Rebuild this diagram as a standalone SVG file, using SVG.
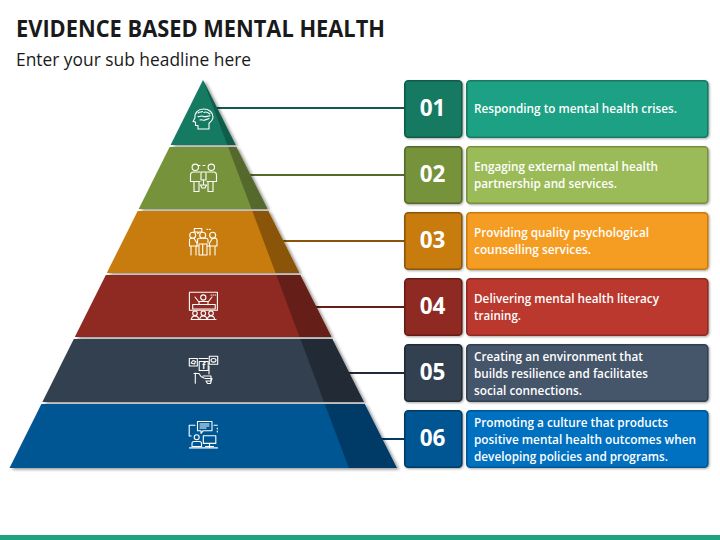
<svg xmlns="http://www.w3.org/2000/svg" width="720" height="540" viewBox="0 0 720 540">
<style>
.t{font-family:"Open Sans","Liberation Sans",sans-serif;fill:#1a1a1a}
.n{font-family:"Open Sans","Liberation Sans",sans-serif;font-weight:700;font-size:22.500px;fill:#fff;text-anchor:middle}
.b{font-family:"Open Sans","Liberation Sans",sans-serif;font-weight:600;font-size:11.600px;fill:#fff}
.i{fill:none;stroke:#fff;stroke-width:1.100;stroke-linejoin:round;stroke-linecap:round}
.c{fill:none;stroke-width:2}
.bx{stroke-width:1.600;filter:url(#bs)}
</style>
<defs>
<filter id="ps" x="-10%" y="-10%" width="125%" height="125%"><feDropShadow dx="2.500" dy="1.500" stdDeviation="1.600" flood-color="#000" flood-opacity=".42"/></filter>
<filter id="bs" x="-10%" y="-10%" width="120%" height="120%"><feDropShadow dx="1" dy="1" stdDeviation="1" flood-color="#000" flood-opacity=".35"/></filter>
</defs>
<rect width="720" height="540" fill="#fff"/>
<text class="t" x="16" y="37" font-size="23.500" font-weight="700" textLength="369" lengthAdjust="spacingAndGlyphs">EVIDENCE BASED MENTAL HEALTH</text>
<text class="t" x="16" y="66" font-size="17.500" textLength="235" lengthAdjust="spacingAndGlyphs">Enter your sub headline here</text>

<g id="connectors">
<path class="c" stroke="#0f5c4a" d="M215 108H404"/>
<path class="c" stroke="#55692c" d="M248 175H404"/>
<path class="c" stroke="#8a5508" d="M281 241H404"/>
<path class="c" stroke="#661e18" d="M314 307H404"/>
<path class="c" stroke="#222a36" d="M347 373H404"/>
<path class="c" stroke="#003a66" d="M380 439H404"/>
</g>

<g id="tier-1">
<path fill="#167a62" filter="url(#ps)" d="M203 80L170.600 145H235.600Z"/>
<path fill="#0f5c4a" d="M203 80L227.400 145H235.600Z"/>
<g class="i"><path d="M198 129v-3.500h-2.500v-3.500l-2.500-.6 2-3.600c-.7-5 3-8.800 8.500-8.800s9.500 3.400 9.500 7.800c0 3-2 5-4 6.500v5.700z"/><path d="M198 113c2-1.600 3-.4 4.500-1.500M204 112.500c2-1.300 3.500-.3 6 1.500M198 116.500c2 .8 3-1.300 5-.3s3 .8 7-.4M200 120c2-1 3 .8 5 0s2-.5 4-1.500"/></g>
</g>

<g id="tier-2">
<path fill="#76923b" filter="url(#ps)" d="M169.600 147H236.400L267.500 209H138.700Z"/>
<path fill="#55692c" d="M228.200 147H236.400L267.500 209H251.500Z"/>
<g class="i"><circle cx="195.300" cy="167.300" r="3.200"/><circle cx="211.300" cy="167.300" r="3.200"/><path d="M200 172h-6.500q-3 0-3 3v6.500h3.500v10h5v-10M207 172h6.500q3 0 3 3v6.500h-3.500v10h-5v-10M194 181.500h6M207 181.500h6M203.500 180v4M200.500 185h6l-1.500 3h-3zM198 165.500h2M203 165.500h2"/><rect x="201" y="172" width="5" height="8"/></g>
</g>

<g id="tier-3">
<path fill="#c77c0e" filter="url(#ps)" d="M137.700 211H268.300L299.400 273H106.800Z"/>
<path fill="#8a5508" d="M252.300 211H268.300L299.400 273H275.600Z"/>
<g class="i"><circle cx="192.700" cy="235.300" r="3"/><circle cx="202.700" cy="235.300" r="3"/><circle cx="212.700" cy="235.300" r="3"/><path d="M194.300 228.500h7.500v3.500h-2.500l-1.500 1.500v-1.500h-3.500zM207 229.400h.7M209.500 229.400h.7M189.500 246v-6q0-1.800 2-1.800h2.500l3 5v3M217 246v-6q0-1.800-2-1.800h-2.500l-3 5v3M197.500 243v-3q0-1.800 2-1.800h6.500q2 0 2 1.800v3M190 246h8M208 246h9M191 246v9M196 246v9M210 246v9M215 246v9M199 244h8v11h-8zM202.700 244v11"/></g>
</g>

<g id="tier-4">
<path fill="#8e2b23" filter="url(#ps)" d="M105.800 275H300.200L331.400 337H74.800Z"/>
<path fill="#661e18" d="M276.300 275H300.200L331.400 337H299.600Z"/>
<g class="i"><rect x="189.400" y="292.300" width="28" height="18"/><circle cx="203.300" cy="297.500" r="2.600"/><path d="M195 297l3.500 4.500h10l3.500-4.500M199 301.500v3M208 301.500v3M192.700 304.500h22.500v4.500h-22.500zM211 295h.5M213 295h.5M215 295h.5"/><circle cx="195" cy="313.300" r="2.300"/><circle cx="203.300" cy="313.300" r="2.300"/><circle cx="211" cy="313.300" r="2.300"/><path d="M191.500 319.500q0-3.500 3.500-3.500t3.500 3.500M199.800 319.500q0-3.500 3.500-3.500t3.500 3.500M207.500 319.500q0-3.500 3.500-3.500t3.500 3.500M191 319.500h25"/></g>
</g>

<g id="tier-5">
<path fill="#333f50" filter="url(#ps)" d="M73.800 339H332.200L363.800 402H42.400Z"/>
<path fill="#222a36" d="M300.400 339H332.200L363.800 402H324.100Z"/>
<g class="i"><rect x="189.300" y="358.500" width="8" height="7.500"/><rect x="199.200" y="361.500" width="9" height="9"/><rect x="209.300" y="356.300" width="8.400" height="8"/><ellipse cx="213.500" cy="360.300" rx="2.500" ry="1.800"/><path d="M191 363l2-2.500 2.500 1-1 2.500zM199 358.500h9M195.300 373v10.300M194 373.500h5l2 3 3 1.500M209 366v8M203 376h8v2.500h-6M206 378.500h5v2.500h-5M206 381l1.500 2.500h3l1.500-5"/><text x="203.700" y="369" font-family="Open Sans,Liberation Sans,sans-serif" font-size="8" font-weight="700" fill="#fff" stroke="none" text-anchor="middle">f</text></g>
</g>

<g id="tier-6">
<path fill="#005693" filter="url(#ps)" d="M41.400 404H364.600L396.800 468H9.500Z"/>
<path fill="#003a66" d="M324.800 404H364.600L396.800 468H348.900Z"/>
<g class="i"><path d="M197.500 421.500h14.500v9.300h-9l-2 2.500v-2.500h-3.500z"/><path d="M200 424h9M200 426h9M200 428h6M195 425.300h-5.800v10.700h2M214 425.300h3.300M217.300 428v1M217.300 431v1"/><circle cx="196.700" cy="437.300" r="2.500"/><path d="M192 446.500v-3q0-2 2-2h5.500q2 0 2 2v3z"/><rect x="203.300" y="435.700" width="12.500" height="7.700"/><path d="M209.500 443.400v3.500M205.500 446.500h8M189.500 447.900h28"/></g>
</g>

<g id="item-1"><rect class="bx" x="404.800" y="80.800" width="57" height="56.500" rx="3.500" fill="#167a62" stroke="#0f5c4a"/><rect class="bx" x="466.800" y="80.800" width="241" height="56.500" rx="3.500" fill="#1fa184" stroke="#167a62"/><text class="n" x="432.500" y="116">01</text><text class="b" x="474" y="112.500" textLength="203" lengthAdjust="spacingAndGlyphs">Responding to mental health crises.</text></g>
<g id="item-2"><rect class="bx" x="404.800" y="146.800" width="57" height="56.500" rx="3.500" fill="#76923b" stroke="#55692c"/><rect class="bx" x="466.800" y="146.800" width="241" height="56.500" rx="3.500" fill="#9bbb59" stroke="#76923b"/><text class="n" x="432.500" y="182">02</text><text class="b" x="474" y="170.500" textLength="184" lengthAdjust="spacingAndGlyphs">Engaging external mental health</text><text class="b" x="474" y="187.500" textLength="143" lengthAdjust="spacingAndGlyphs">partnership and services.</text></g>
<g id="item-3"><rect class="bx" x="404.800" y="212.800" width="57" height="56.500" rx="3.500" fill="#c77c0e" stroke="#8a5508"/><rect class="bx" x="466.800" y="212.800" width="241" height="56.500" rx="3.500" fill="#f59d23" stroke="#c77c0e"/><text class="n" x="432.500" y="248">03</text><text class="b" x="474" y="236.500" textLength="175" lengthAdjust="spacingAndGlyphs">Providing quality psychological</text><text class="b" x="474" y="253.500" textLength="117" lengthAdjust="spacingAndGlyphs">counselling services.</text></g>
<g id="item-4"><rect class="bx" x="404.800" y="278.800" width="57" height="56.500" rx="3.500" fill="#8e2b23" stroke="#661e18"/><rect class="bx" x="466.800" y="278.800" width="241" height="56.500" rx="3.500" fill="#bb372e" stroke="#8e2b23"/><text class="n" x="432.500" y="314">04</text><text class="b" x="474" y="302.500" textLength="185" lengthAdjust="spacingAndGlyphs">Delivering mental health literacy</text><text class="b" x="474" y="319.500" textLength="47" lengthAdjust="spacingAndGlyphs">training.</text></g>
<g id="item-5"><rect class="bx" x="404.800" y="344.800" width="57" height="56.500" rx="3.500" fill="#333f50" stroke="#222a36"/><rect class="bx" x="466.800" y="344.800" width="241" height="56.500" rx="3.500" fill="#44546a" stroke="#333f50"/><text class="n" x="432.500" y="380">05</text><text class="b" x="474" y="360.500" textLength="169" lengthAdjust="spacingAndGlyphs">Creating an environment that</text><text class="b" x="474" y="377.500" textLength="174" lengthAdjust="spacingAndGlyphs">builds resilience and facilitates</text><text class="b" x="474" y="394.500" textLength="108" lengthAdjust="spacingAndGlyphs">social connections.</text></g>
<g id="item-6"><rect class="bx" x="404.800" y="410.800" width="57" height="56.500" rx="3.500" fill="#005693" stroke="#003a66"/><rect class="bx" x="466.800" y="410.800" width="241" height="56.500" rx="3.500" fill="#0070c0" stroke="#005693"/><text class="n" x="432.500" y="446">06</text><text class="b" x="474" y="426.500" textLength="194" lengthAdjust="spacingAndGlyphs">Promoting a culture that products</text><text class="b" x="474" y="443.500" textLength="222" lengthAdjust="spacingAndGlyphs">positive mental health outcomes when</text><text class="b" x="474" y="460.500" textLength="194" lengthAdjust="spacingAndGlyphs">developing policies and programs.</text></g>

<rect x="0" y="535" width="720" height="5" fill="#1fa184"/>
</svg>
